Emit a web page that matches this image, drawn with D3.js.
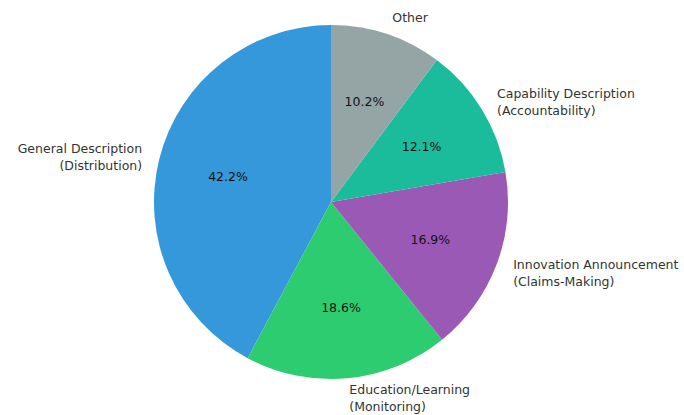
<!DOCTYPE html>
<html>
<head>
<meta charset="utf-8">
<script src="https://cdn.jsdelivr.net/npm/d3@7"></script>
<style>
  html, body { margin: 0; padding: 0; background: #ffffff; }
  svg { display: block; }
</style>
</head>
<body>
<svg id="chart" width="684" height="415"></svg>
<script>
// Share of communication types (percent), listed counterclockwise from 12 o'clock
const categories = [
  ["General Description", "(Distribution)"],
  ["Education/Learning", "(Monitoring)"],
  ["Innovation Announcement", "(Claims-Making)"],
  ["Capability Description", "(Accountability)"],
  ["Other"]
];
const shares = [42.2, 18.6, 16.9, 12.1, 10.2];
const colors = ["#3498db", "#2ecc71", "#9b59b6", "#1abc9c", "#95a5a6"];

const W = 684, H = 415;
const cx = 331, cy = 202, radius = 177;
const fontFamily = "'DejaVu Sans', sans-serif";
const fontSize = 12.5;
const lineHeight = 17;

const svg = d3.select("#chart");
const g = svg.append("g").attr("transform", `translate(${cx},${cy})`);

const data = categories.map((c, i) => ({ lines: c, value: shares[i], color: colors[i] }));

// Counterclockwise from the top
const pie = d3.pie().sort(null).value(d => d.value)
  .startAngle(0).endAngle(-2 * Math.PI);
const arcs = pie(data);

const arc = d3.arc().innerRadius(0).outerRadius(radius);

g.selectAll("path.slice")
  .data(arcs)
  .join("path")
  .attr("class", "slice")
  .attr("d", arc)
  .attr("fill", d => d.data.color);

const mid = d => (d.startAngle + d.endAngle) / 2;

// Percentage labels inside slices
g.selectAll("text.pct")
  .data(arcs)
  .join("text")
  .attr("class", "pct")
  .attr("x", d => 0.6 * radius * Math.sin(mid(d)))
  .attr("y", d => -0.6 * radius * Math.cos(mid(d)))
  .attr("dy", "0.35em")
  .attr("text-anchor", "middle")
  .attr("font-family", fontFamily)
  .attr("font-size", fontSize)
  .attr("fill", "#111")
  .text(d => d.data.value.toFixed(1) + "%");

// Category labels outside the pie
const labels = g.selectAll("text.cat")
  .data(arcs)
  .join("text")
  .attr("class", "cat")
  .attr("text-anchor", d => Math.sin(mid(d)) >= 0 ? "start" : "end")
  .attr("font-family", fontFamily)
  .attr("font-size", fontSize)
  .attr("fill", "#333");

labels.each(function(d) {
  const x = 1.1 * radius * Math.sin(mid(d));
  const y = -1.1 * radius * Math.cos(mid(d));
  const n = d.data.lines.length;
  d3.select(this).selectAll("tspan")
    .data(d.data.lines)
    .join("tspan")
    .attr("x", x)
    .attr("y", (l, i) => y + (i - (n - 1) / 2) * lineHeight + (n > 1 ? 2 : 0))
    .attr("dy", "0.35em")
    .text(l => l);
});
</script>
</body>
</html>
